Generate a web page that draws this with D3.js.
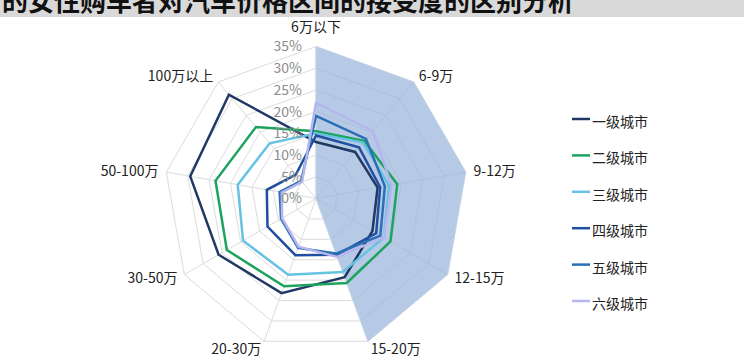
<!DOCTYPE html>
<html>
<head>
<meta charset="utf-8">
<script src="https://cdn.jsdelivr.net/npm/d3@7"></script>
<style>
  body { margin: 0; background: #fff; }
  svg { display: block; font-family: "Noto Sans CJK SC", "Noto Sans", sans-serif; }
</style>
</head>
<body>
<div id="chart"></div>
<script>
// price ranges, clockwise from the top
var categories = ["6万以下", "6-9万", "9-12万", "12-15万", "15-20万", "20-30万", "30-50万", "50-100万", "100万以上"];
var seriesNames = ["一级城市", "二级城市", "三级城市", "四级城市", "五级城市", "六级城市"];
var seriesColors = ["#203864", "#1ea35e", "#66c2e2", "#1f4f9e", "#2b70b6", "#b5b5ef"];

// values in %
var tier1 = [13.0, 14.0, 14.4, 15.0, 19.3, 23.2, 25.9, 29.4, 31.2];
var tier2 = [15.5, 17.3, 19.0, 19.8, 20.7, 21.5, 23.7, 23.5, 21.5];
var tier3 = [15.0, 16.8, 17.1, 18.0, 18.0, 18.7, 19.4, 18.3, 16.6];
var tier4 = [14.5, 15.4, 15.0, 16.0, 13.8, 13.9, 12.9, 11.5, 7.2];
var tier5 = [19.0, 17.9, 16.1, 17.1, 13.5, 12.1, 9.3, 8.5, 5.3];
var tier6 = [22.0, 20.3, 17.7, 18.0, 14.3, 11.8, 9.0, 8.0, 5.0];
// highlighted band (filled area, no legend entry)
var band = [35, 35, 35, 35, 35, 0, 0, 0, 0];

var tickValues = [0, 5, 10, 15, 20, 25, 30, 35];
var allSeries = [tier1, tier2, tier3, tier4, tier5, tier6];

var width = 744,
    height = 361,
    cx = 316,
    cy = 198.5;

var svg = d3.select("#chart").append("svg")
    .attr("width", width)
    .attr("height", height);

// cut-off title banner at the top
svg.append("clipPath").attr("id", "band-clip")
  .append("rect")
    .attr("x", 0).attr("y", 0)
    .attr("width", width).attr("height", 17);
svg.append("rect")
    .attr("x", 0).attr("y", 0)
    .attr("width", width).attr("height", 17)
    .attr("fill", "#d9d9d9");
svg.append("text")
    .attr("clip-path", "url(#band-clip)")
    .attr("x", 2).attr("y", 11)
    .attr("font-size", 26)
    .attr("font-weight", "bold")
    .attr("fill", "#111")
    .text("的女性购车者对汽车价格区间的接受度的区别分析");

var r = d3.scaleLinear().domain([0, 35]).range([0, 152]);
var angle = d3.scalePoint().domain(categories).range([0, 2 * Math.PI * (categories.length - 1) / categories.length]);

var g = svg.append("g").attr("transform", "translate(" + cx + "," + cy + ")");

function pt(cat, v) {
  var a = angle(cat);
  return [Math.sin(a) * r(v), -Math.cos(a) * r(v)];
}

// grid rings
g.append("g").selectAll("polygon")
    .data(tickValues.slice(1))
  .enter().append("polygon")
    .attr("points", function(t) { return categories.map(function(c) { return pt(c, t).join(","); }).join(" "); })
    .attr("fill", "none")
    .attr("stroke", "#dcdcdc")
    .attr("stroke-width", 1);

// spokes
g.append("g").selectAll("line")
    .data(categories)
  .enter().append("line")
    .attr("x1", 0).attr("y1", 0)
    .attr("x2", function(c) { return pt(c, 35)[0]; })
    .attr("y2", function(c) { return pt(c, 35)[1]; })
    .attr("stroke", "#dcdcdc")
    .attr("stroke-width", 1);

var radarLine = d3.lineRadial()
    .angle(function(d, i) { return angle(categories[i]); })
    .radius(function(d) { return r(d); })
    .curve(d3.curveLinearClosed);

// filled band
g.append("path")
    .datum(band)
    .attr("d", radarLine)
    .attr("fill", "#98b3da")
    .attr("fill-opacity", 0.7)
    .attr("stroke", "#c3d3ec")
    .attr("stroke-width", 1);

// series lines
g.append("g").selectAll("path")
    .data(allSeries)
  .enter().append("path")
    .attr("d", radarLine)
    .attr("fill", "none")
    .attr("stroke", function(d, i) { return seriesColors[i]; })
    .attr("stroke-width", 2.5)
    .attr("stroke-linejoin", "miter");

// tick labels along the top spoke
g.append("g").selectAll("text")
    .data(tickValues)
  .enter().append("text")
    .attr("x", -14)
    .attr("y", function(t) { return -r(t); })
    .attr("dy", "0.35em")
    .attr("text-anchor", "end")
    .attr("font-size", 14)
    .attr("fill", "#8c8c8c")
    .text(function(t) { return t + "%"; });

// category labels
g.append("g").selectAll("text")
    .data(categories)
  .enter().append("text")
    .attr("x", function(c) { var p = pt(c, 35 * 160 / 152); return p[0]; })
    .attr("y", function(c, i) { var p = pt(c, 35 * 160 / 152); return i === 0 ? p[1] - 11 : p[1]; })
    .attr("dy", "0.35em")
    .attr("text-anchor", function(c) {
      var s = Math.sin(angle(c));
      return Math.abs(s) < 0.01 ? "middle" : (s > 0 ? "start" : "end");
    })
    .attr("font-size", 14)
    .attr("fill", "#222")
    .text(function(c) { return c; });

// legend
var legend = svg.append("g").selectAll("g")
    .data(seriesNames)
  .enter().append("g")
    .attr("transform", function(d, i) { return "translate(572," + (122 + i * 36.4) + ")"; });

legend.append("line")
    .attr("x1", 0).attr("x2", 18)
    .attr("y1", -3).attr("y2", -3)
    .attr("stroke", function(d, i) { return seriesColors[i]; })
    .attr("stroke-width", 2.5);

legend.append("text")
    .attr("x", 20)
    .attr("dy", "0.35em")
    .attr("font-size", 14)
    .attr("fill", "#222")
    .text(function(d) { return d; });
</script>
</body>
</html>
